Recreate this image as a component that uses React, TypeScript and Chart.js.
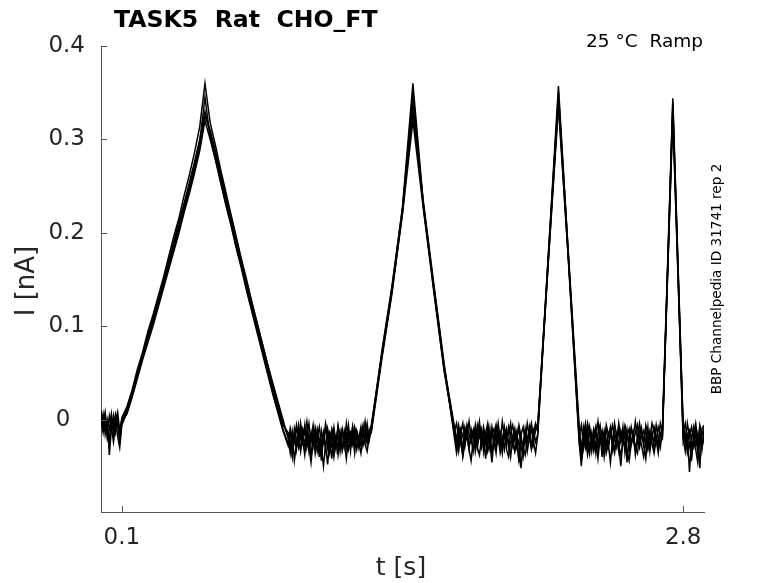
import { useEffect, useRef } from "react";
import { Chart, registerables, type ChartConfiguration, type Plugin } from "chart.js";

Chart.register(...registerables);

// sample times [s] shared by every sweep
const TIME = [
  // holding
  0, 0.01, 0.02, 0.03, 0.04, 0.05, 0.06, 0.07, 0.08, 0.09, 0.1,
  // ramp 1
  0.125, 0.15, 0.175, 0.2, 0.225, 0.25, 0.275, 0.3, 0.325, 0.35,
  0.375, 0.4, 0.425, 0.45, 0.475, 0.5, 0.525, 0.55, 0.575, 0.6,
  0.625, 0.65, 0.675, 0.7, 0.725, 0.75, 0.775, 0.8, 0.825, 0.85, 0.875,
  // holding
  0.9, 0.91, 0.92, 0.93, 0.94, 0.95, 0.96, 0.97, 0.98, 0.99,
  1.0, 1.01, 1.02, 1.03, 1.04, 1.05, 1.06, 1.07, 1.08, 1.09,
  1.1, 1.11, 1.12, 1.13, 1.14, 1.15, 1.16, 1.17, 1.18, 1.19,
  1.2, 1.21, 1.22, 1.23, 1.24, 1.25, 1.26, 1.27, 1.28, 1.29, 1.3,
  // ramp 2
  1.35, 1.4, 1.45, 1.5, 1.55, 1.6, 1.65,
  // holding
  1.7, 1.71, 1.72, 1.73, 1.74, 1.75, 1.76, 1.77, 1.78, 1.79,
  1.8, 1.81, 1.82, 1.83, 1.84, 1.85, 1.86, 1.87, 1.88, 1.89,
  1.9, 1.91, 1.92, 1.93, 1.94, 1.95, 1.96, 1.97, 1.98, 1.99,
  2.0, 2.01, 2.02, 2.03, 2.04, 2.05, 2.06, 2.07, 2.08, 2.09, 2.1,
  // ramp 3
  2.15, 2.2, 2.25,
  // holding
  2.3, 2.31, 2.32, 2.33, 2.34, 2.35, 2.36, 2.37, 2.38, 2.39,
  2.4, 2.41, 2.42, 2.43, 2.44, 2.45, 2.46, 2.47, 2.48, 2.49,
  2.5, 2.51, 2.52, 2.53, 2.54, 2.55, 2.56, 2.57, 2.58, 2.59,
  2.6, 2.61, 2.62, 2.63, 2.64, 2.65, 2.66, 2.67, 2.68, 2.69, 2.7,
  // ramp 4
  2.75,
  // holding
  2.8, 2.81, 2.82, 2.83, 2.84, 2.85, 2.86, 2.87, 2.88, 2.89, 2.9,
];

// current [nA], one array per sweep, same order as TIME
const SWEEP_1 = [
  0.004, -0.006, 0.008, -0.012, -0.030, 0.002, -0.008, 0.006, -0.004, -0.020, 0.002,
  0.014, 0.032, 0.054, 0.072, 0.094, 0.112, 0.132, 0.152, 0.174, 0.196,
  0.216, 0.240, 0.262, 0.286, 0.314, 0.360, 0.318, 0.294, 0.268, 0.244,
  0.220, 0.196, 0.172, 0.150, 0.126, 0.104, 0.082, 0.060, 0.038, 0.018, -0.004,
  -0.018, -0.030, -0.012, -0.024, -0.006, -0.020, -0.034, -0.010, -0.016, -0.002,
  -0.022, -0.014, -0.028, -0.008, -0.018, -0.040, -0.012, -0.024, -0.004, -0.016,
  -0.026, -0.010, -0.020, -0.032, -0.008, -0.018, -0.012, -0.028, -0.004, -0.020,
  -0.014, -0.026, -0.008, -0.018, -0.030, -0.010, -0.016, -0.002, -0.020, -0.012, -0.006,
  0.070, 0.142, 0.228, 0.360, 0.232, 0.142, 0.056,
  -0.010, -0.024, -0.006, -0.018, -0.030, -0.008, -0.016, -0.002, -0.022, -0.012,
  -0.026, -0.006, -0.018, -0.010, -0.034, -0.014, -0.004, -0.020, -0.012, -0.028,
  -0.008, -0.016, -0.024, -0.002, -0.018, -0.010, -0.030, -0.014, -0.006, -0.022,
  -0.012, -0.046, -0.016, -0.008, -0.024, -0.004, -0.018, -0.010, -0.026, -0.006, -0.012,
  0.172, 0.357, 0.168,
  -0.014, -0.040, -0.008, -0.020, -0.004, -0.016, -0.026, -0.010, -0.018, -0.002,
  -0.022, -0.012, -0.030, -0.006, -0.016, -0.010, -0.024, -0.004, -0.018, -0.034,
  -0.012, -0.020, -0.006, -0.014, -0.026, -0.008, -0.018, -0.002, -0.022, -0.012,
  -0.016, -0.028, -0.006, -0.014, -0.020, -0.004, -0.012, -0.024, -0.008, -0.016, -0.010,
  0.344,
  -0.012, -0.026, -0.004, -0.018, -0.008, -0.022, -0.010, -0.030, -0.006, -0.016, -0.010,
];

const SWEEP_2 = [
  -0.006, 0.006, -0.016, -0.002, -0.038, -0.010, 0.004, -0.014, -0.002, -0.024, -0.004,
  0.010, 0.028, 0.048, 0.068, 0.088, 0.106, 0.126, 0.146, 0.166, 0.188,
  0.208, 0.230, 0.250, 0.272, 0.298, 0.345, 0.302, 0.280, 0.256, 0.232,
  0.210, 0.186, 0.164, 0.140, 0.118, 0.096, 0.074, 0.052, 0.030, 0.010, -0.010,
  -0.026, -0.012, -0.036, -0.020, -0.008, -0.028, -0.014, -0.024, -0.006, -0.030,
  -0.018, -0.040, -0.016, -0.026, -0.010, -0.022, -0.034, -0.014, -0.028, -0.048,
  -0.020, -0.012, -0.030, -0.018, -0.038, -0.022, -0.010, -0.026, -0.016, -0.032,
  -0.020, -0.008, -0.028, -0.014, -0.024, -0.036, -0.018, -0.010, -0.026, -0.016, -0.012,
  0.068, 0.138, 0.224, 0.350, 0.230, 0.140, 0.054,
  -0.016, -0.030, -0.012, -0.026, -0.038, -0.018, -0.008, -0.028, -0.020, -0.034,
  -0.014, -0.024, -0.010, -0.030, -0.020, -0.042, -0.016, -0.026, -0.008, -0.022,
  -0.036, -0.014, -0.028, -0.018, -0.032, -0.012, -0.024, -0.040, -0.020, -0.010,
  -0.030, -0.022, -0.052, -0.026, -0.014, -0.034, -0.020, -0.028, -0.012, -0.024, -0.016,
  0.168, 0.350, 0.166,
  -0.022, -0.050, -0.018, -0.030, -0.012, -0.036, -0.020, -0.028, -0.010, -0.032,
  -0.024, -0.016, -0.040, -0.022, -0.030, -0.014, -0.026, -0.036, -0.018, -0.028,
  -0.050, -0.020, -0.030, -0.012, -0.034, -0.024, -0.016, -0.038, -0.022, -0.030,
  -0.010, -0.026, -0.042, -0.018, -0.028, -0.014, -0.032, -0.022, -0.036, -0.016, -0.020,
  0.340,
  -0.020, -0.034, -0.014, -0.056, -0.024, -0.030, -0.012, -0.036, -0.020, -0.028, -0.016,
];

const SWEEP_3 = [
  0.010, -0.004, 0.002, -0.020, -0.010, 0.006, -0.016, -0.002, 0.008, -0.012, 0.000,
  0.012, 0.030, 0.050, 0.070, 0.090, 0.110, 0.128, 0.148, 0.170, 0.190,
  0.212, 0.232, 0.254, 0.276, 0.300, 0.330, 0.306, 0.284, 0.260, 0.236,
  0.212, 0.190, 0.166, 0.144, 0.122, 0.100, 0.078, 0.056, 0.034, 0.014, -0.006,
  -0.014, -0.024, -0.040, -0.010, -0.022, -0.030, -0.004, -0.018, -0.026, -0.012,
  -0.034, -0.020, -0.006, -0.028, -0.016, -0.024, -0.044, -0.018, -0.010, -0.030,
  -0.014, -0.022, -0.008, -0.026, -0.016, -0.034, -0.012, -0.020, -0.030, -0.006,
  -0.024, -0.016, -0.036, -0.012, -0.020, -0.008, -0.028, -0.018, -0.004, -0.022, -0.010,
  0.072, 0.144, 0.226, 0.340, 0.228, 0.144, 0.058,
  -0.008, -0.020, -0.034, -0.014, -0.004, -0.024, -0.016, -0.032, -0.010, -0.020,
  -0.006, -0.030, -0.016, -0.024, -0.008, -0.020, -0.028, -0.010, -0.036, -0.018,
  -0.006, -0.024, -0.014, -0.030, -0.008, -0.022, -0.016, -0.004, -0.026, -0.034,
  -0.018, -0.010, -0.028, -0.040, -0.014, -0.022, -0.008, -0.030, -0.016, -0.004, -0.010,
  0.170, 0.345, 0.170,
  -0.008, -0.030, -0.016, -0.004, -0.024, -0.012, -0.034, -0.018, -0.008, -0.026,
  -0.014, -0.040, -0.020, -0.010, -0.028, -0.016, -0.006, -0.022, -0.030, -0.012,
  -0.024, -0.008, -0.036, -0.018, -0.010, -0.026, -0.014, -0.032, -0.020, -0.004,
  -0.018, -0.012, -0.026, -0.008, -0.034, -0.016, -0.024, -0.006, -0.020, -0.030, -0.012,
  0.335,
  -0.006, -0.020, -0.030, -0.010, -0.044, -0.016, -0.004, -0.022, -0.012, -0.032, -0.008,
];

const SWEEP_4 = [
  -0.002, -0.014, 0.004, -0.008, -0.022, -0.004, -0.012, 0.002, -0.018, -0.030, -0.006,
  0.008, 0.026, 0.046, 0.066, 0.086, 0.104, 0.124, 0.144, 0.164, 0.184,
  0.204, 0.226, 0.246, 0.268, 0.292, 0.325, 0.310, 0.288, 0.264, 0.240,
  0.216, 0.194, 0.170, 0.148, 0.126, 0.104, 0.082, 0.060, 0.040, 0.020, 0.000,
  -0.020, -0.036, -0.016, -0.044, -0.026, -0.012, -0.032, -0.022, -0.038, -0.018,
  -0.028, -0.046, -0.024, -0.014, -0.034, -0.022, -0.030, -0.050, -0.026, -0.016,
  -0.036, -0.024, -0.040, -0.020, -0.030, -0.014, -0.034, -0.024, -0.042, -0.018,
  -0.030, -0.022, -0.012, -0.032, -0.020, -0.028, -0.014, -0.026, -0.034, -0.018, -0.014,
  0.064, 0.136, 0.222, 0.330, 0.234, 0.146, 0.060,
  -0.020, -0.036, -0.024, -0.014, -0.040, -0.026, -0.018, -0.032, -0.044, -0.022,
  -0.012, -0.030, -0.038, -0.020, -0.028, -0.016, -0.034, -0.024, -0.046, -0.022,
  -0.030, -0.018, -0.036, -0.026, -0.014, -0.032, -0.040, -0.024, -0.018, -0.034,
  -0.026, -0.044, -0.020, -0.030, -0.038, -0.022, -0.016, -0.032, -0.024, -0.036, -0.018,
  0.166, 0.340, 0.162,
  -0.026, -0.044, -0.032, -0.020, -0.038, -0.026, -0.014, -0.034, -0.024, -0.042,
  -0.020, -0.030, -0.018, -0.036, -0.026, -0.046, -0.022, -0.032, -0.016, -0.028,
  -0.038, -0.024, -0.014, -0.034, -0.044, -0.026, -0.020, -0.030, -0.036, -0.018,
  -0.028, -0.040, -0.024, -0.032, -0.016, -0.026, -0.036, -0.020, -0.030, -0.024, -0.018,
  0.330,
  -0.024, -0.016, -0.036, -0.026, -0.040, -0.020, -0.032, -0.046, -0.022, -0.030, -0.020,
];

const SWEEP_5 = [
  0.002, -0.010, -0.002, -0.016, 0.004, -0.008, -0.024, -0.006, 0.000, -0.014, -0.002,
  0.006, 0.024, 0.044, 0.064, 0.082, 0.100, 0.120, 0.140, 0.160, 0.180,
  0.200, 0.222, 0.242, 0.264, 0.288, 0.320, 0.300, 0.278, 0.254, 0.230,
  0.208, 0.184, 0.162, 0.138, 0.116, 0.094, 0.072, 0.050, 0.028, 0.008, -0.012,
  -0.028, -0.010, -0.022, -0.016, -0.032, -0.006, -0.020, -0.012, -0.028, -0.018,
  -0.004, -0.024, -0.014, -0.036, -0.020, -0.008, -0.026, -0.016, -0.032, -0.010,
  -0.022, -0.042, -0.014, -0.026, -0.006, -0.020, -0.030, -0.012, -0.024, -0.016,
  -0.034, -0.008, -0.022, -0.014, -0.028, -0.018, -0.006, -0.024, -0.012, -0.020, -0.008,
  0.066, 0.140, 0.220, 0.320, 0.226, 0.138, 0.052,
  -0.012, -0.004, -0.022, -0.010, -0.018, -0.028, -0.006, -0.016, -0.024, -0.012,
  -0.034, -0.018, -0.002, -0.020, -0.014, -0.026, -0.008, -0.030, -0.016, -0.010,
  -0.024, -0.004, -0.020, -0.036, -0.014, -0.026, -0.008, -0.018, -0.028, -0.012,
  -0.022, -0.006, -0.018, -0.030, -0.010, -0.024, -0.014, -0.004, -0.020, -0.012, -0.008,
  0.164, 0.335, 0.164,
  -0.018, -0.006, -0.026, -0.012, -0.030, -0.008, -0.022, -0.014, -0.036, -0.016,
  -0.006, -0.024, -0.012, -0.028, -0.018, -0.008, -0.032, -0.014, -0.022, -0.004,
  -0.020, -0.026, -0.012, -0.046, -0.018, -0.010, -0.024, -0.014, -0.006, -0.028,
  -0.016, -0.022, -0.010, -0.030, -0.012, -0.020, -0.008, -0.018, -0.026, -0.004, -0.014,
  0.325,
  -0.014, -0.004, -0.024, -0.012, -0.020, -0.008, -0.028, -0.016, -0.052, -0.010, -0.006,
];

const SWEEPS = [SWEEP_1, SWEEP_2, SWEEP_3, SWEEP_4, SWEEP_5];

const X_TICKS = [0.1, 2.8];
const Y_TICKS = [0, 0.1, 0.2, 0.3, 0.4];

const TITLE = "TASK5  Rat  CHO_FT";
const CONDITION = "25 °C  Ramp";
const SOURCE = "BBP Channelpedia ID 31741 rep 2";
const X_LABEL = "t [s]";
const Y_LABEL = "I [nA]";

const FONT = "'DejaVu Sans', sans-serif";
const INK = "#262626";

// inward tick marks + all the figure text (MATLAB-style)
const figureText: Plugin<"line"> = {
  id: "figureText",
  afterDraw(chart) {
    const { ctx, chartArea } = chart;
    const x = chart.scales.x;
    const y = chart.scales.y;
    ctx.save();

    ctx.strokeStyle = "#555";
    ctx.lineWidth = 1;
    ctx.beginPath();
    for (const t of x.ticks) {
      const px = Math.round(x.getPixelForValue(t.value)) + 0.5;
      ctx.moveTo(px, chartArea.bottom);
      ctx.lineTo(px, chartArea.bottom - 6);
    }
    for (const t of y.ticks) {
      const py = Math.round(y.getPixelForValue(t.value)) + 0.5;
      ctx.moveTo(chartArea.left, py);
      ctx.lineTo(chartArea.left + 6, py);
    }
    ctx.stroke();

    ctx.fillStyle = "#000";
    ctx.font = `bold 23.6px ${FONT}`;
    ctx.textAlign = "left";
    ctx.textBaseline = "alphabetic";
    ctx.fillText(TITLE, 114, 27);

    ctx.font = `18.5px ${FONT}`;
    ctx.textAlign = "right";
    ctx.fillText(CONDITION, 703, 47);

    ctx.fillStyle = INK;
    ctx.font = `25px ${FONT}`;
    ctx.textAlign = "center";
    ctx.fillText(X_LABEL, 401, 575);

    ctx.save();
    ctx.font = `26px ${FONT}`;
    ctx.translate(34, 281);
    ctx.rotate(-Math.PI / 2);
    ctx.fillText(Y_LABEL, 0, 0);
    ctx.restore();

    ctx.fillStyle = "#000";
    ctx.font = `13.6px ${FONT}`;
    ctx.save();
    ctx.translate(721, 279);
    ctx.rotate(-Math.PI / 2);
    ctx.fillText(SOURCE, 0, 0);
    ctx.restore();

    ctx.restore();
  },
};

export default function App() {
  const canvasRef = useRef<HTMLCanvasElement>(null);

  useEffect(() => {
    if (!canvasRef.current) return;
    const config: ChartConfiguration<"line"> = {
      type: "line",
      data: {
        datasets: SWEEPS.map((sweep, i) => ({
          label: `sweep ${i + 1}`,
          data: TIME.map((t, k) => ({ x: t, y: sweep[k] })),
          borderColor: "#000",
          borderWidth: 1.5,
          pointRadius: 0,
          tension: 0,
          fill: false,
        })),
      },
      options: {
        animation: false,
        responsive: true,
        maintainAspectRatio: false,
        events: [],
        layout: { padding: { left: 0, top: 46, right: 74, bottom: 0 } },
        plugins: {
          legend: { display: false },
          tooltip: { enabled: false },
        },
        scales: {
          x: {
            type: "linear",
            min: 0,
            max: 2.9,
            afterFit: (s) => {
              s.height = 71;
            },
            afterBuildTicks: (s) => {
              s.ticks = X_TICKS.map((v) => ({ value: v }));
            },
            grid: { display: false, drawTicks: false },
            border: { display: true, color: "#555", width: 1 },
            ticks: {
              color: INK,
              font: { family: FONT, size: 23 },
              padding: 12,
              maxRotation: 0,
              callback: (v) => String(v),
            },
          },
          y: {
            type: "linear",
            min: -0.099,
            max: 0.4,
            afterFit: (s) => {
              s.width = 101;
            },
            afterBuildTicks: (s) => {
              s.ticks = Y_TICKS.map((v) => ({ value: v }));
            },
            grid: { display: false, drawTicks: false },
            border: { display: true, color: "#555", width: 1 },
            ticks: {
              color: INK,
              font: { family: FONT, size: 23 },
              padding: 16,
              callback: (v) => (Number(v) === 0 ? "0\u2007" : String(v)),
            },
          },
        },
      },
      plugins: [figureText],
    };
    const chart = new Chart(canvasRef.current, config);
    return () => chart.destroy();
  }, []);

  return (
    <div style={{ position: "fixed", left: 0, top: 0, width: 778, height: 583, background: "#fff" }}>
      <canvas ref={canvasRef} />
    </div>
  );
}
